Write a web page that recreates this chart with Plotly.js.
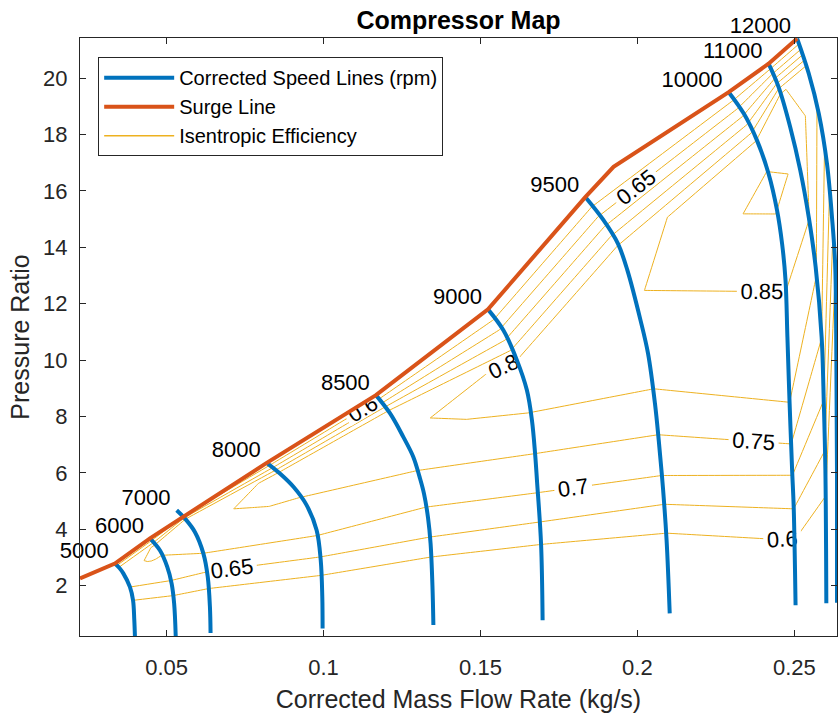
<!DOCTYPE html>
<html>
<head>
<meta charset="utf-8">
<script src="https://cdn.plot.ly/plotly-3.0.1.min.js"></script>
<style>html,body{margin:0;padding:0;background:#fff}#chart{width:840px;height:713px}</style>
</head>
<body>
<div id="chart"></div>
<script>
// Corrected speed lines (rpm)
const speeds = [5000, 6000, 7000, 8000, 8500, 9000, 9500, 10000, 11000, 12000];
// grid point index along each speed line (0 = surge end, 9 = choke end)
const betaIndex = [0, 1, 2, 3, 4, 5, 6, 7, 8, 9];

// ---- speed line curves (corrected mass flow kg/s, pressure ratio) ----
const curveFlow5000  = [0.0335, 0.0349, 0.0362, 0.0383, 0.0393, 0.0397, 0.0399];
const curvePR5000    = [2.79, 2.64, 2.44, 1.96, 1.49, 0.78, 0.22];
const curveFlow6000  = [0.0447, 0.0479, 0.0502, 0.0516, 0.0524, 0.0529];
const curvePR6000    = [3.68, 3.25, 2.67, 2.08, 1.37, 0.22];
const curveFlow7000  = [0.0532, 0.0558, 0.0590, 0.0617, 0.0631, 0.0638, 0.0640];
const curvePR7000    = [4.68, 4.39, 3.91, 3.15, 2.32, 1.25, 0.33];
const curveFlow8000  = [0.0819, 0.0861, 0.0904, 0.0946, 0.0978, 0.0991, 0.0996, 0.0997];
const curvePR8000    = [6.36, 5.98, 5.51, 4.86, 3.97, 2.91, 1.61, 0.49];
const curveFlow8500  = [0.1167, 0.1212, 0.1254, 0.1286, 0.1306, 0.1320, 0.1333, 0.1341, 0.1347, 0.1350];
const curvePR8500    = [8.76, 8.11, 7.28, 6.57, 5.86, 5.27, 4.40, 3.50, 2.00, 0.61];
const curveFlow9000  = [0.1524, 0.1573, 0.1616, 0.1648, 0.1664, 0.1674, 0.1680, 0.1693, 0.1698];
const curvePR9000    = [11.80, 11.06, 10.00, 8.93, 7.87, 6.69, 5.74, 3.50, 0.78];
const curveFlow9500  = [0.1834, 0.1892, 0.1938, 0.1968, 0.2010, 0.2034, 0.2056, 0.2068, 0.2082, 0.2093, 0.2103];
const curvePR9500    = [15.78, 14.96, 14.13, 13.19, 11.41, 10.23, 8.46, 7.16, 5.39, 3.62, 1.02];
const curveFlow10000 = [0.2291, 0.2339, 0.2381, 0.2418, 0.2445, 0.2461, 0.2472, 0.2478, 0.2485, 0.2493, 0.2498, 0.2504];
const curvePR10000   = [19.50, 18.74, 17.79, 16.61, 15.31, 14.13, 12.83, 10.82, 8.46, 6.10, 4.80, 1.31];
const curveFlow11000 = [0.2418, 0.2450, 0.2487, 0.2519, 0.2546, 0.2568, 0.2587, 0.2594, 0.2599, 0.2602];
const curvePR11000   = [20.51, 19.68, 18.26, 16.73, 15.07, 13.30, 10.82, 8.46, 6.10, 1.38];
const curveFlow12000 = [0.2509, 0.2546, 0.2578, 0.2604, 0.2620, 0.2630, 0.2634, 0.2636, 0.2636];
const curvePR12000   = [21.40, 20.16, 18.74, 16.97, 15.07, 13.42, 10.00, 6.00, 1.40];

// ---- isentropic efficiency grid: points on each speed line (flow, PR, efficiency) ----
const flow5000  = [0.0335, 0.0348, 0.0366, 0.0370, 0.0375, 0.0378, 0.0380, 0.0383, 0.0393, 0.0399];
const pr5000    = [2.79, 2.62, 2.35, 2.25, 2.15, 2.08, 2.02, 1.96, 1.49, 0.22];
const eff5000   = [0.55, 0.665, 0.68, 0.678, 0.675, 0.672, 0.668, 0.6505, 0.6005, 0.50];

const flow6000  = [0.0447, 0.0464, 0.0475, 0.0480, 0.0482, 0.0484, 0.0485, 0.0513, 0.0521, 0.0529];
const pr6000    = [3.68, 3.45, 3.30, 3.22, 3.17, 3.13, 3.09, 2.19, 1.66, 0.22];
const eff6000   = [0.55, 0.705, 0.715, 0.713, 0.71, 0.706, 0.7005, 0.6505, 0.6005, 0.50];

const flow7000  = [0.0532, 0.0561, 0.0584, 0.0594, 0.0601, 0.0608, 0.0617, 0.0628, 0.0634, 0.0640];
const pr7000    = [4.68, 4.35, 4.00, 3.80, 3.60, 3.40, 3.16, 2.50, 1.91, 0.33];
const eff7000   = [0.35, 0.715, 0.735, 0.73, 0.725, 0.715, 0.7005, 0.6505, 0.6005, 0.50];

const flow8000  = [0.0819, 0.0859, 0.0887, 0.0905, 0.0917, 0.0927, 0.0980, 0.0990, 0.0993, 0.0997];
const pr8000    = [6.36, 6.00, 5.70, 5.50, 5.30, 5.15, 3.79, 3.03, 2.38, 0.49];
const eff8000   = [0.55, 0.76, 0.77, 0.765, 0.76, 0.7505, 0.7005, 0.6505, 0.6005, 0.50];

const flow8500  = [0.1167, 0.1212, 0.1238, 0.1258, 0.1276, 0.1299, 0.1326, 0.1336, 0.1341, 0.1350];
const pr8500    = [8.76, 8.10, 7.60, 7.20, 6.80, 6.10, 4.80, 3.73, 3.03, 0.61];
const eff8500   = [0.55, 0.785, 0.795, 0.79, 0.78, 0.7505, 0.7005, 0.6505, 0.6005, 0.50];

const flow9000  = [0.1524, 0.1617, 0.1646, 0.1653, 0.1660, 0.1674, 0.1682, 0.1689, 0.1693, 0.1698];
const pr9000    = [11.80, 9.95, 9.00, 8.60, 8.16, 6.70, 5.31, 4.27, 3.48, 0.78];
const eff9000   = [0.55, 0.805, 0.815, 0.81, 0.8005, 0.7505, 0.7005, 0.6505, 0.6005, 0.50];

const flow9500  = [0.1834, 0.1950, 0.1991, 0.2024, 0.2052, 0.2066, 0.2077, 0.2086, 0.2093, 0.2103];
const pr9500    = [15.78, 13.80, 12.20, 10.80, 9.00, 7.37, 5.92, 4.90, 3.88, 1.02];
const eff9500   = [0.55, 0.835, 0.845, 0.835, 0.8005, 0.7505, 0.7005, 0.6505, 0.6005, 0.50];

const flow10000 = [0.2291, 0.2387, 0.2431, 0.2473, 0.2485, 0.2490, 0.2494, 0.2498, 0.2500, 0.2504];
const pr10000   = [19.50, 17.60, 16.00, 12.48, 8.52, 7.04, 5.93, 4.74, 3.62, 1.31];
const eff10000  = [0.55, 0.88, 0.915, 0.8505, 0.8005, 0.7505, 0.7005, 0.6505, 0.6005, 0.50];

const flow11000 = [0.2418, 0.2457, 0.2513, 0.2547, 0.2570, 0.2587, 0.2594, 0.2597, 0.2600, 0.2602];
const pr11000   = [20.51, 19.40, 17.00, 15.00, 13.00, 10.80, 8.60, 6.80, 5.20, 1.38];
const eff11000  = [0.55, 0.86, 0.89, 0.8505, 0.8005, 0.7505, 0.7005, 0.6505, 0.6005, 0.50];

const flow12000 = [0.2509, 0.2539, 0.2552, 0.2561, 0.2572, 0.2596, 0.2612, 0.2623, 0.2630, 0.2636];
const pr12000   = [21.40, 20.40, 19.90, 19.50, 19.00, 17.50, 16.00, 14.50, 13.00, 1.40];
const eff12000  = [0.55, 0.81, 0.82, 0.815, 0.8005, 0.7505, 0.7005, 0.6505, 0.6005, 0.50];

// surge line
const surgeFlow = [0.0224, 0.0335, 0.0447, 0.0819, 0.1167, 0.1524, 0.1834, 0.1924, 0.2291, 0.2418, 0.2509];
const surgePR   = [2.26, 2.79, 3.68, 6.36, 8.76, 11.80, 15.78, 16.85, 19.50, 20.51, 21.40];

// efficiency contour levels
const effLevels = [0.6, 0.65, 0.7, 0.75, 0.8, 0.85, 0.9];

// tick labels
const xTickVals = [0.05, 0.1, 0.15, 0.2, 0.25];
const xTickText = ['0.05', '0.1', '0.15', '0.2', '0.25'];
const yTickVals = [2, 4, 6, 8, 10, 12, 14, 16, 18, 20];
const yTickText = ['2', '4', '6', '8', '10', '12', '14', '16', '18', '20'];

const curves = [
  {flow: curveFlow5000, pr: curvePR5000}, {flow: curveFlow6000, pr: curvePR6000},
  {flow: curveFlow7000, pr: curvePR7000}, {flow: curveFlow8000, pr: curvePR8000},
  {flow: curveFlow8500, pr: curvePR8500}, {flow: curveFlow9000, pr: curvePR9000},
  {flow: curveFlow9500, pr: curvePR9500}, {flow: curveFlow10000, pr: curvePR10000},
  {flow: curveFlow11000, pr: curvePR11000}, {flow: curveFlow12000, pr: curvePR12000}
];
const grid = [
  {flow: flow5000, pr: pr5000, eff: eff5000}, {flow: flow6000, pr: pr6000, eff: eff6000},
  {flow: flow7000, pr: pr7000, eff: eff7000}, {flow: flow8000, pr: pr8000, eff: eff8000},
  {flow: flow8500, pr: pr8500, eff: eff8500}, {flow: flow9000, pr: pr9000, eff: eff9000},
  {flow: flow9500, pr: pr9500, eff: eff9500}, {flow: flow10000, pr: pr10000, eff: eff10000},
  {flow: flow11000, pr: pr11000, eff: eff11000}, {flow: flow12000, pr: pr12000, eff: eff12000}
];

// flatten into carpet grid
const A = [], B = [], X = [], Y = [], Z = [];
for (let j = 0; j < betaIndex.length; j++) {
  for (let i = 0; i < speeds.length; i++) {
    A.push(speeds[i]); B.push(betaIndex[j]);
    X.push(grid[i].flow[j]); Y.push(grid[i].pr[j]); Z.push(grid[i].eff[j]);
  }
}

const FONT = 'Liberation Sans, Arial, Helvetica, sans-serif';
const hiddenAxis = {
  smoothing: 0, showgrid: false, showline: false, startline: false, endline: false,
  showticklabels: 'none', minorgridcount: 0, gridcolor: 'rgba(0,0,0,0)', linecolor: 'rgba(0,0,0,0)',
  title: {text: ''}
};

const traces = [];
traces.push({
  type: 'carpet', carpet: 'map', a: A, b: B, x: X, y: Y,
  aaxis: hiddenAxis, baxis: hiddenAxis, color: 'rgba(0,0,0,0)', hoverinfo: 'skip'
});
traces.push({
  type: 'contourcarpet', carpet: 'map', a: A, b: B, z: Z,
  autocontour: false,
  contours: {
    start: effLevels[0], end: effLevels[effLevels.length - 1] + 0.001, size: 0.05,
    coloring: 'none', showlabels: true,
    labelfont: {size: 22, color: '#000000', family: FONT}, labelformat: '.2~f'
  },
  line: {color: '#EDB120', width: 1, smoothing: 0},
  showscale: false, showlegend: false, hoverinfo: 'skip'
});

curves.forEach((c, i) => {
  const txt = c.flow.map((v, k) => k === 0 ? String(speeds[i]) + '\u00A0' : '');
  traces.push({
    type: 'scatter', mode: 'lines+text', x: c.flow, y: c.pr, text: txt,
    textposition: 'top left', textfont: {size: 22, color: '#000000', family: FONT},
    line: {color: '#0072BD', width: 4, shape: 'spline', smoothing: 1},
    name: 'Corrected Speed Lines (rpm)', legendgroup: 'speed', showlegend: i === 0,
    cliponaxis: false, hoverinfo: 'skip'
  });
});

traces.push({
  type: 'scatter', mode: 'lines', x: surgeFlow, y: surgePR,
  line: {color: '#D95319', width: 4},
  name: 'Surge Line', legendgroup: 'surge', hoverinfo: 'skip'
});
traces.push({
  type: 'scatter', mode: 'lines', x: [null], y: [null],
  line: {color: '#EDB120', width: 1.5},
  name: 'Isentropic Efficiency', legendgroup: 'eff', hoverinfo: 'skip'
});

const axisCommon = {
  ticks: 'inside', ticklen: 6, tickwidth: 1, tickcolor: '#262626',
  showline: true, linecolor: '#262626', linewidth: 1, mirror: 'ticks',
  showgrid: false, zeroline: false, tickfont: {size: 22, color: '#262626', family: FONT}
};

const layout = {
  width: 840, height: 713,
  margin: {l: 80, r: 3, t: 38, b: 77},
  paper_bgcolor: '#ffffff', plot_bgcolor: '#ffffff',
  font: {family: FONT, color: '#262626'},
  title: {
    text: 'Compressor Map', x: 0.5, xref: 'paper', xanchor: 'center',
    y: 0.972, yref: 'container', yanchor: 'middle',
    font: {size: 25, color: '#000000', family: FONT, weight: 'bold'}
  },
  xaxis: Object.assign({}, axisCommon, {
    range: [0.0224, 0.2636], tickmode: 'array', tickvals: xTickVals, ticktext: xTickText,
    ticklabelstandoff: 12,
    title: {text: 'Corrected Mass Flow Rate (kg/s)', font: {size: 25, color: '#262626', family: FONT}, standoff: 12}
  }),
  yaxis: Object.assign({}, axisCommon, {
    range: [0.22, 21.42], tickmode: 'array', tickvals: yTickVals, ticktext: yTickText,
    ticklabelstandoff: 7,
    title: {text: 'Pressure Ratio', font: {size: 25, color: '#262626', family: FONT}, standoff: 6}
  }),
  showlegend: true,
  legend: {
    x: 0.024, y: 0.968, xanchor: 'left', yanchor: 'top',
    bgcolor: '#ffffff', bordercolor: '#262626', borderwidth: 1,
    font: {size: 20, color: '#000000', family: FONT},
    itemwidth: 70, traceorder: 'grouped', tracegroupgap: 0
  }
};

Plotly.newPlot('chart', traces, layout, {displayModeBar: false, staticPlot: true});
</script>
</body>
</html>
